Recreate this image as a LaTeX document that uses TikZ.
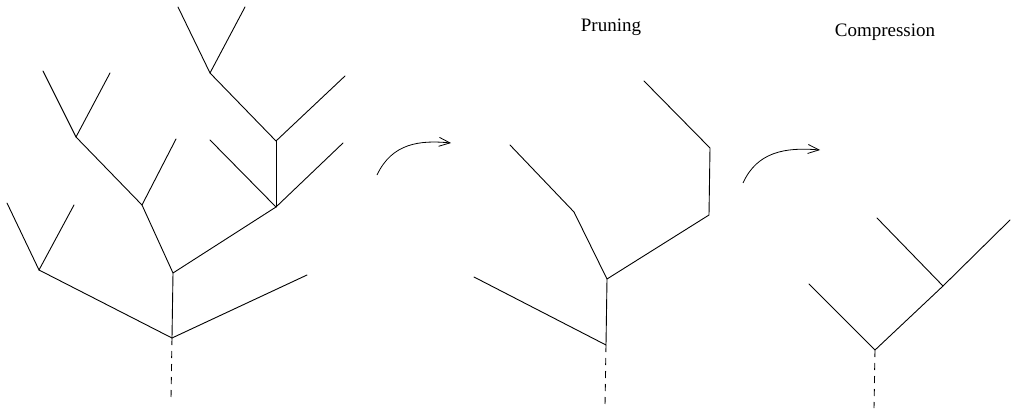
\documentclass[tikz,border=0pt]{standalone}
\usepackage{fontspec}
\setmainfont{Liberation Serif}
\usetikzlibrary{arrows.meta}
\tikzset{
  branch/.style={line width=0.9pt, line cap=round, line join=round},
  trunk/.style={line width=0.9pt, dash pattern=on 7pt off 6pt},
  turn/.style={line width=0.8pt, -{Straight Barb[length=11pt,width=9pt]}},
  caption/.style={font=\fontsize{19}{22}\selectfont, inner sep=0pt}
}
\begin{document}
\begin{tikzpicture}[x=1pt, y=-1pt]
\useasboundingbox (0,0) rectangle (1012,410);

% ---------- full tree ----------
\coordinate (r1) at (172,338);
\coordinate (r1b) at (171,398);
\coordinate (a1) at (39,270);
\coordinate (a1l) at (7,203);
\coordinate (a1r) at (74,205);
\coordinate (s1) at (307,275);
\coordinate (b1) at (173,273);
\coordinate (c1) at (142,205);
\coordinate (c1r) at (176,139);
\coordinate (e1) at (76,137);
\coordinate (e1l) at (43,71);
\coordinate (e1r) at (110,73);
\coordinate (d1) at (276,207);
\coordinate (d1l) at (210,140);
\coordinate (d1r) at (343,143);
\coordinate (f1) at (276,141);
\coordinate (f1r) at (345,76);
\coordinate (g1) at (210,73);
\coordinate (g1l) at (178,7);
\coordinate (g1r) at (245,7);

\draw[trunk] (r1) -- (r1b);
\draw[branch] (a1l) -- (a1) -- (a1r);
\draw[branch] (a1) -- (r1) -- (s1);
\draw[branch] (r1) -- (b1);
\draw[branch] (d1) -- (b1) -- (c1);
\draw[branch] (e1) -- (c1) -- (c1r);
\draw[branch] (e1l) -- (e1) -- (e1r);
\draw[branch] (d1l) -- (d1) -- (d1r);
\draw[branch] (d1) -- (f1);
\draw[branch] (g1) -- (f1) -- (f1r);
\draw[branch] (g1l) -- (g1) -- (g1r);

% ---------- pruned tree ----------
\coordinate (r2) at (606,345);
\coordinate (r2b) at (605,405);
\coordinate (s2) at (474,277);
\coordinate (b2) at (607,279);
\coordinate (c2) at (574,212);
\coordinate (c2l) at (510,145);
\coordinate (d2) at (709,215);
\coordinate (f2) at (710,148);
\coordinate (f2l) at (644,81);

\draw[trunk] (r2) -- (r2b);
\draw[branch] (s2) -- (r2) -- (b2);
\draw[branch] (c2l) -- (c2) -- (b2) -- (d2) -- (f2) -- (f2l);

\node[caption] (prune) at (611,27) {Pruning};
\coordinate (p0) at (377,175);
\coordinate (p1) at (451,143);
\draw[turn] (p0) .. controls (392,143) and (420,140) .. (p1);

% ---------- compressed tree ----------
\coordinate (r3) at (875,350);
\coordinate (r3b) at (874,408);
\coordinate (s3) at (809,284);
\coordinate (h3) at (943,286);
\coordinate (h3l) at (877,218);
\coordinate (h3r) at (1010,220);

\draw[trunk] (r3) -- (r3b);
\draw[branch] (s3) -- (r3) -- (h3) -- (h3r);
\draw[branch] (h3l) -- (h3);

\node[caption] (compress) at (885,32) {Compression};
\coordinate (q0) at (743,183);
\coordinate (q1) at (820,150);
\draw[turn] (q0) .. controls (757,152) and (785,147) .. (q1);
\end{tikzpicture}
\end{document}
